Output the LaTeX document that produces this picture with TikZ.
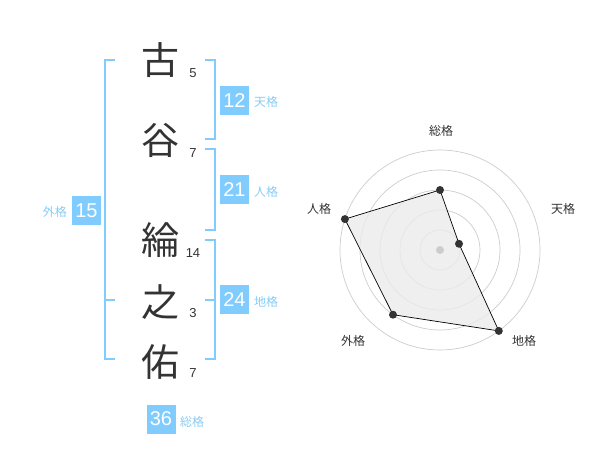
\documentclass[tikz,border=0pt]{standalone}
\usepackage{fontspec}
\setmainfont{Liberation Sans}
\newfontfamily\jp{Noto Sans CJK JP}
\definecolor{skyb}{HTML}{80CCFF}
\definecolor{lblb}{HTML}{88CCF5}
\definecolor{ink}{HTML}{333333}
\definecolor{ringc}{HTML}{CCCCCC}
\begin{document}
\begin{tikzpicture}[x=1pt,y=-1pt,
  kanji/.style={font=\jp\fontsize{38}{38}\selectfont, text=ink, inner sep=0pt},
  strokes/.style={font=\fontsize{13}{13}\selectfont, text=ink, inner sep=0pt},
  valbox/.style={fill=skyb, text=white, minimum size=29pt, inner sep=0pt, font=\fontsize{20}{20}\selectfont},
  kaku/.style={font=\jp\fontsize{12}{12}\selectfont, text=lblb, inner sep=0pt},
  brack/.style={draw=skyb, line width=2pt},
  ring/.style={draw=ringc, line width=0.7pt},
  rlabel/.style={font=\jp\fontsize{12}{12}\selectfont, text=ink, inner sep=0pt},
  pt/.style={circle, fill=ink, inner sep=0pt, minimum size=8pt}
]
\useasboundingbox (0,0) rectangle (600,470);
% characters
\node[kanji] (k1) at (160,60) {古};
\node[kanji] (k2) at (160,140) {谷};
\node[kanji] (k3) at (160,240) {綸};
\node[kanji] (k4) at (160,302) {之};
\node[kanji] (k5) at (160,362) {佑};
% stroke counts
\node[strokes] (s1) at (193,73) {5};
\node[strokes] (s2) at (193,153) {7};
\node[strokes] (s3) at (193,253) {14};
\node[strokes] (s4) at (193,313) {3};
\node[strokes] (s5) at (193,373) {7};
% brackets
\coordinate (b1a) at (205,60); \coordinate (b1b) at (215,60);
\coordinate (b1c) at (215,139); \coordinate (b1d) at (205,139);
\draw[brack] (b1a) -- (b1b) -- (b1c) -- (b1d);
\coordinate (b2a) at (205,149); \coordinate (b2b) at (215,149);
\coordinate (b2c) at (215,230); \coordinate (b2d) at (205,230);
\draw[brack] (b2a) -- (b2b) -- (b2c) -- (b2d);
\coordinate (b3a) at (205,240); \coordinate (b3b) at (215,240);
\coordinate (b3c) at (215,359); \coordinate (b3d) at (205,359);
\coordinate (b3m) at (205,300); \coordinate (b3n) at (215,300);
\draw[brack] (b3a) -- (b3b) -- (b3c) -- (b3d);
\draw[brack] (b3m) -- (b3n);
\coordinate (l1) at (115,60); \coordinate (l2) at (105,60);
\coordinate (l3) at (105,359); \coordinate (l4) at (115,359);
\coordinate (l5) at (105,300); \coordinate (l6) at (115,300);
\draw[brack] (l1) -- (l2) -- (l3) -- (l4);
\draw[brack] (l5) -- (l6);
% value boxes
\node[valbox] (v12) at (234.5,100.5) {12};
\node[kaku, anchor=west] (t12) at (254,102) {天格};
\node[valbox] (v21) at (234.5,190) {21};
\node[kaku, anchor=west] (t21) at (254,192) {人格};
\node[valbox] (v24) at (234.5,300) {24};
\node[kaku, anchor=west] (t24) at (254,302) {地格};
\node[valbox] (v15) at (86.5,210.5) {15};
\node[kaku, anchor=east] (t15) at (67,212) {外格};
\node[valbox] (v36) at (161,419) {36};
\node[kaku, anchor=west] (t36) at (180,422) {総格};
% radar
\coordinate (c) at (440,250);
\foreach \r in {20,40,60,80,100} \draw[ring] (c) circle[radius=\r pt];
\coordinate (pS) at (440,190);
\coordinate (pT) at (459,243.8);
\coordinate (pC) at (498.8,330.9);
\coordinate (pG) at (393,314.7);
\coordinate (pJ) at (344.9,219.1);
\filldraw[fill=black!8, fill opacity=0.8, draw=black, line width=0.7pt] (pS) -- (pT) -- (pC) -- (pG) -- (pJ) -- cycle;
\node[circle, fill=ringc, inner sep=0pt, minimum size=8pt] (pc) at (c) {};
\foreach \p in {pS,pT,pC,pG,pJ} \node[pt] at (\p) {};
\node[rlabel] (rS) at (441,131) {総格};
\node[rlabel] (rT) at (563,209) {天格};
\node[rlabel] (rC) at (524,341) {地格};
\node[rlabel] (rG) at (353,341) {外格};
\node[rlabel] (rJ) at (319,209) {人格};
\end{tikzpicture}
\end{document}
